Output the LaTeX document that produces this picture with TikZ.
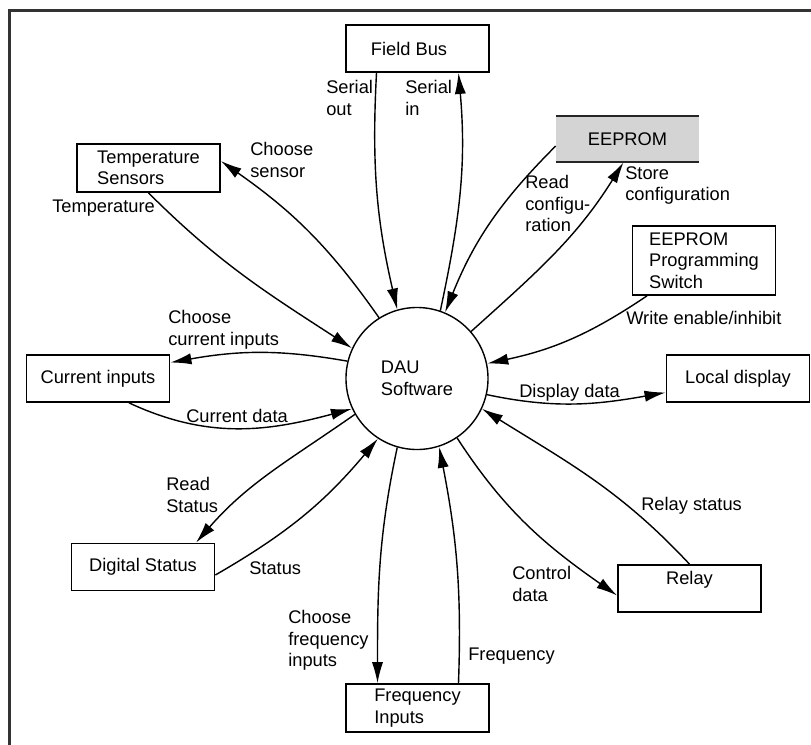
\documentclass[tikz,border=0pt]{standalone}
\usepackage{fontspec}
\setmainfont{Liberation Sans}
\usetikzlibrary{arrows.meta,calc}

\begin{document}
\begin{tikzpicture}[x=.025cm,y=-.025cm,
	every node/.style={font=\fontsize{13}{15.3}\selectfont},
	extbox/.style={draw,line width=1.2pt,minimum width=3.575cm,minimum height=1.175cm,align=left,inner sep=2pt},
	lbl/.style={anchor=north west,inner sep=0pt,align=left},
	dataflow/.style={-{Latex[length=15pt,width=8pt]},line width=1pt}]
	\useasboundingbox (0,0) rectangle (811,745);
	
	% frame
	\draw[black!80,line width=1.5pt] (9.5,745) -- (9.5,10.5) -- (811,10.5);
	
	% software
	\node[circle,draw,line width=1pt,minimum size=3.55cm,inner sep=0pt,align=left] (dau) at (417,378.5) {DAU\\Software};
	
	% terminators
	\node[extbox] (fb) at (417.5,48.5) {Field Bus\hspace{12pt}};
	\node[extbox,minimum height=1.2cm] (temp) at (148.5,168) {Temperature\\Sensors};
	\node[extbox,minimum height=1.725cm] (sw) at (704,260.5) {EEPROM\\Programming\\Switch};
	\node[extbox] (cur) at (98,378.5) {Current inputs};
	\node[extbox] (disp) at (738,378.5) {Local display};
	\node[extbox] (dig) at (143,567) {Digital Status};
	\node[extbox] (relay) at (689.5,588.5) {Relay\hspace{16pt}\\\mbox{}};
	\node[extbox,minimum height=1.2cm] (freq) at (417.5,708) {Frequency\\Inputs};
	
	% eeprom (store)
	\node[fill=black!17,minimum width=3.575cm,minimum height=1.15cm,inner sep=2pt] (eeprom) at (627.5,139) {EEPROM};
	\draw[black!85,line width=1.2pt] (eeprom.north west) -- (eeprom.north east);
	\draw[black!85,line width=1.2pt] (eeprom.south west) -- (eeprom.south east);
	
	% flows
	\draw[dataflow] ($(fb.south)+(-41,0)$) to[out=-93,in=103] (dau.106);
	\draw[dataflow] (dau.71) to[out=78,in=-85] ($(fb.south)+(41,0)$);
	\draw[dataflow] (dau.122) to[out=125,in=-35] ($(temp.east)+(0,-7)$);
	\draw[dataflow] (temp.south) to[out=-45,in=147] (dau.155);
	\draw[dataflow] ($(eeprom.west)+(0,7)$) to[out=-135,in=68] (dau.67);
	\draw[dataflow] (dau.41) to[out=42,in=-122] ($(eeprom.south)+(-4,0)$);
	\draw[dataflow] ($(sw.south)+(-57,0)$) to[out=-146,in=12] (dau.12);
	\draw[dataflow] (dau.166) to[out=170,in=10] ($(cur.east)+(0,-16)$);
	\draw[dataflow] ($(cur.south)+(31,0)$) to[out=-25,in=195] (dau.205);
	\draw[dataflow] (dau.347) to[out=-12,in=190] ($(disp.west)+(0,14)$);
	\draw[dataflow] (dau.210) to[out=-145,in=49] ($(dig.north)+(53,0)$);
	\draw[dataflow] ($(dig.east)+(0,8)$) to[out=30,in=-130] (dau.237);
	\draw[dataflow] (dau.254) to[out=-102,in=90] ($(freq.north)+(-40,0)$);
	\draw[dataflow] ($(freq.north)+(41,0)$) to[out=88,in=-79] (dau.288);
	\draw[dataflow] (dau.304) to[out=-57,in=145] ($(relay.west)+(0,7)$);
	\draw[dataflow] (relay.north) to[out=133,in=-32] (dau.335);
	
	% flow labels
	\node[lbl] (l-serout) at (326,80) {Serial\\out};
	\node[lbl] (l-serin) at (405,80) {Serial\\in};
	\node[lbl] (l-choosesens) at (250,142) {Choose\\sensor};
	\node[lbl] (l-temp) at (52,200) {Temperature};
	\node[lbl] (l-readconf) at (525,175) {Read\\configu-\\ration};
	\node[lbl] (l-storeconf) at (625,166) {Store\\configuration};
	\node[lbl] (l-write) at (626,311) {Write enable/inhibit};
	\node[lbl] (l-choosecur) at (168,310) {Choose\\current inputs};
	\node[lbl] (l-curdata) at (186,409) {Current data};
	\node[lbl] (l-dispdata) at (519,384) {Display data};
	\node[lbl] (l-readstat) at (166,477) {Read\\Status};
	\node[lbl] (l-status) at (249,561) {Status};
	\node[lbl] (l-choosefreq) at (288,610) {Choose\\frequency\\inputs};
	\node[lbl] (l-freq) at (468,648) {Frequency};
	\node[lbl] (l-control) at (512,566) {Control\\data};
	\node[lbl] (l-relaystat) at (641,497) {Relay status};
	
\end{tikzpicture}
\end{document}
